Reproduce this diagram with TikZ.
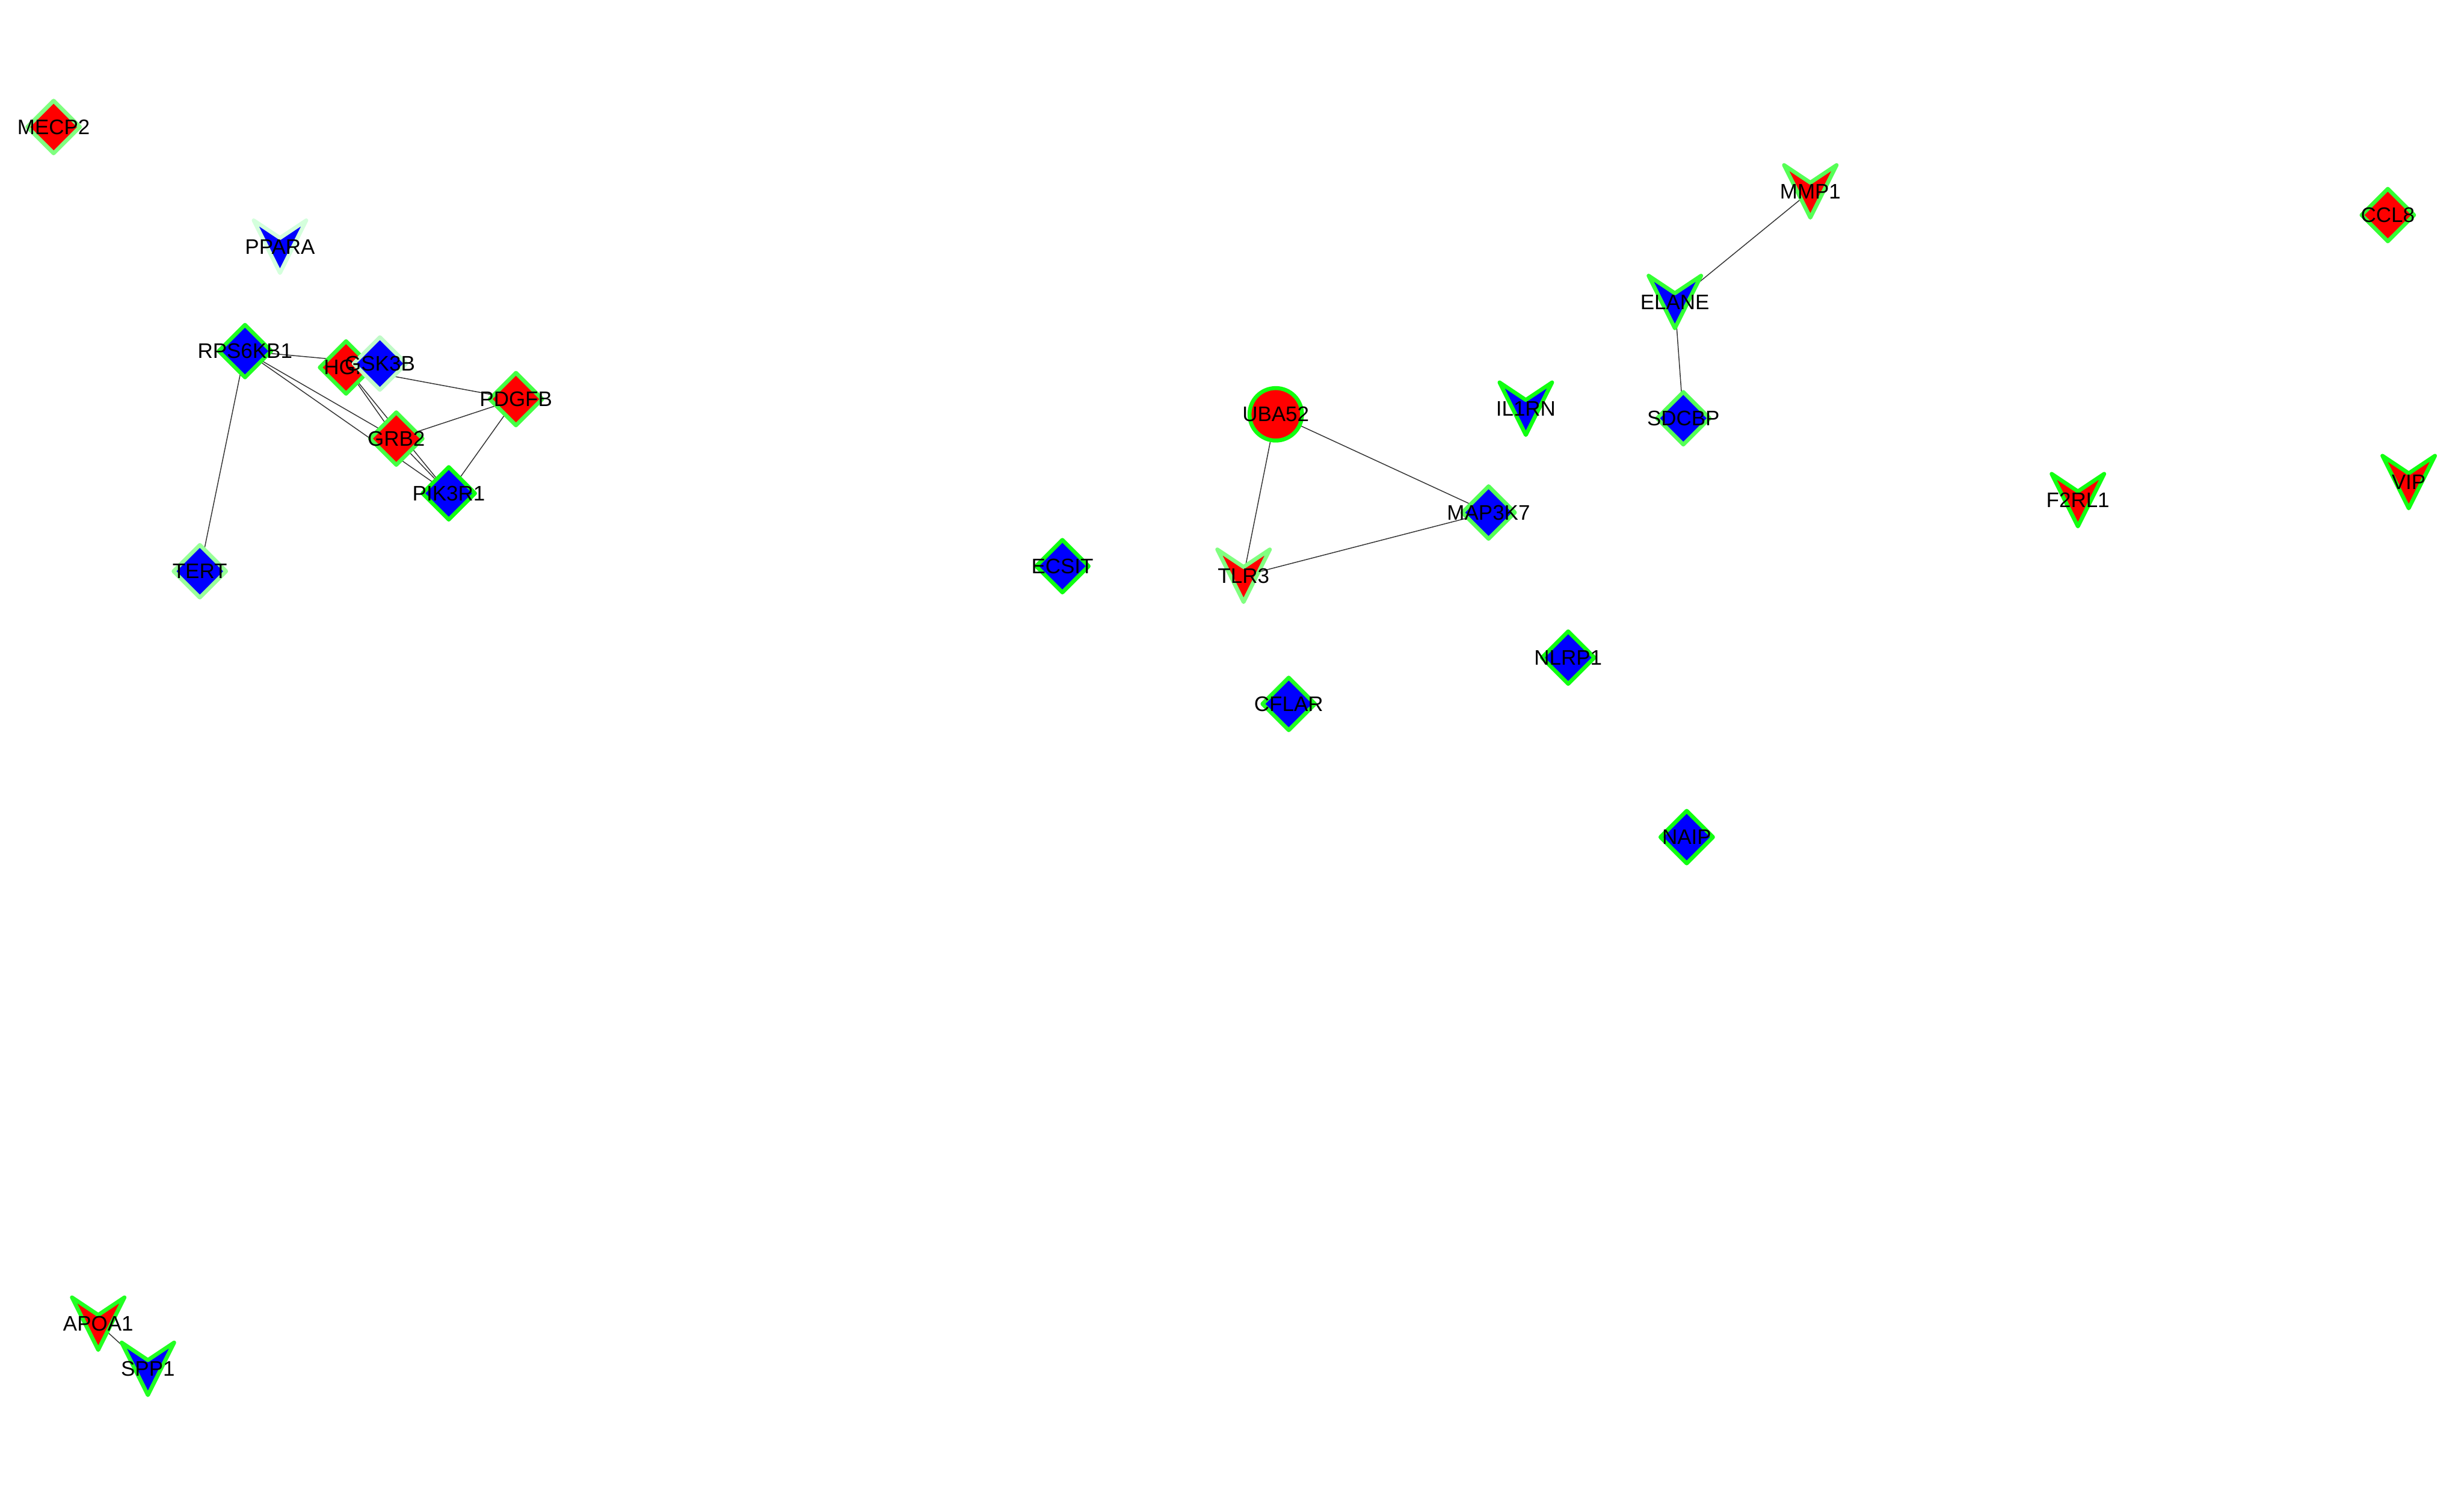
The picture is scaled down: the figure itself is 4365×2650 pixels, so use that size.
\documentclass[tikz,border=0pt]{standalone}
\usepackage{fontspec}
\newfontfamily\labelfont{Liberation Sans}
\usetikzlibrary{backgrounds}
\definecolor{edgegray}{HTML}{353535}
\definecolor{nred}{HTML}{FF0000}
\definecolor{nblue}{HTML}{0000FF}
\definecolor{gba}{HTML}{11FF11}
\definecolor{gbb}{HTML}{22FF22}
\definecolor{gbc}{HTML}{33FF33}
\definecolor{gbd}{HTML}{44FF44}
\definecolor{gbe}{HTML}{55FF55}
\definecolor{gla}{HTML}{80FF80}
\definecolor{glb}{HTML}{99FF99}
\definecolor{glc}{HTML}{C0FAC8}
\definecolor{gld}{HTML}{D4FFDC}
\tikzset{
  edge/.style={draw=edgegray, line width=0.45pt},
  nodeborder/.style={line width=2pt, line join=round},
  lbl/.style={font=\labelfont\fontsize{10.6pt}{12pt}\selectfont, inner sep=0pt, text=black},
}
% name, x, y, fill, border, label
\newcommand\ndDia[6]{%
  \draw[nodeborder, fill={#4}, draw={#5}, shift={(#2,#3)}] (0,-46.5) -- (46.5,0) -- (0,46.5) -- (-46.5,0) -- cycle;
  \node[lbl] (#1) at (#2,#3) {#6};}
\newcommand\ndVee[6]{%
  \draw[nodeborder, fill={#4}, draw={#5}, shift={(#2,#3)}] (-46.5,-46.5) -- (0,-15.5) -- (46.5,-46.5) -- (0,46.5) -- cycle;
  \node[lbl] (#1) at (#2,#3) {#6};}
\newcommand\ndEll[6]{%
  \draw[nodeborder, fill={#4}, draw={#5}] (#2,#3) circle[radius=46.5];
  \node[lbl] (#1) at (#2,#3) {#6};}
\begin{document}
\begin{tikzpicture}[x=0.01cm, y=-0.01cm]
\useasboundingbox (0,0) rectangle (4365,2650);
% nodes
\ndDia{MECP2}{95}{225}{nred}{gla}{MECP2}
\ndVee{PPARA}{496}{437}{nblue}{gld}{PPARA}
\ndDia{TERT}{354}{1012}{nblue}{glb}{TERT}
\ndDia{RPS6KB1}{434}{622}{nblue}{gbb}{RPS6KB1}
\ndDia{HGF}{613}{651}{nred}{gbc}{HGF}
\ndDia{GSK3B}{673}{644}{nblue}{glc}{GSK3B}
\ndDia{PDGFB}{914}{707}{nred}{gbd}{PDGFB}
\ndDia{GRB2}{702}{777}{nred}{gbd}{GRB2}
\ndDia{PIK3R1}{795}{874}{nblue}{gba}{PIK3R1}
\ndDia{ECSIT}{1882}{1003}{nblue}{gba}{ECSIT}
\ndEll{UBA52}{2260}{734}{nred}{gba}{UBA52}
\ndVee{TLR3}{2203}{1020}{nred}{gla}{TLR3}
\ndDia{MAP3K7}{2637}{908}{nblue}{gbe}{MAP3K7}
\ndVee{IL1RN}{2703}{724}{nblue}{gba}{IL1RN}
\ndDia{CFLAR}{2283}{1247}{nblue}{gbb}{CFLAR}
\ndDia{NLRP1}{2778}{1165}{nblue}{gba}{NLRP1}
\ndDia{NAIP}{2988}{1483}{nblue}{gba}{NAIP}
\ndVee{MMP1}{3207}{339}{nred}{gbe}{MMP1}
\ndVee{ELANE}{2967}{535}{nblue}{gbc}{ELANE}
\ndDia{SDCBP}{2982}{741}{nblue}{gbe}{SDCBP}
\ndVee{F2RL1}{3681}{886}{nred}{gba}{F2RL1}
\ndVee{VIP}{4267}{854}{nred}{gba}{VIP}
\ndDia{CCL8}{4230}{381}{nred}{gbc}{CCL8}
\ndVee{APOA1}{174}{2345}{nred}{gbb}{APOA1}
\ndVee{SPP1}{262}{2425}{nblue}{gbb}{SPP1}
% edges underneath
\begin{pgfonlayer}{background}
\fill[white] (0,0) rectangle (4365,2650);
\draw[edge] (RPS6KB1.center) -- (GSK3B.center);
\draw[edge] (RPS6KB1.center) -- (GRB2.center);
\draw[edge] (RPS6KB1.center) -- (PIK3R1.center);
\draw[edge] (RPS6KB1.center) -- (TERT.center);
\draw[edge] (HGF.center) -- (GRB2.center);
\draw[edge] (HGF.center) -- (PIK3R1.center);
\draw[edge] (HGF.center) -- (PDGFB.center);
\draw[edge] (GRB2.center) -- (PDGFB.center);
\draw[edge] (PDGFB.center) -- (PIK3R1.center);
\draw[edge] (GRB2.center) -- (PIK3R1.center);
\draw[edge] (UBA52.center) -- (TLR3.center);
\draw[edge] (UBA52.center) -- (MAP3K7.center);
\draw[edge] (TLR3.center) -- (MAP3K7.center);
\draw[edge] (MMP1.center) -- (ELANE.center);
\draw[edge] (ELANE.center) -- (SDCBP.center);
\draw[edge] (APOA1.center) -- (SPP1.center);
\end{pgfonlayer}
\end{tikzpicture}
\end{document}
